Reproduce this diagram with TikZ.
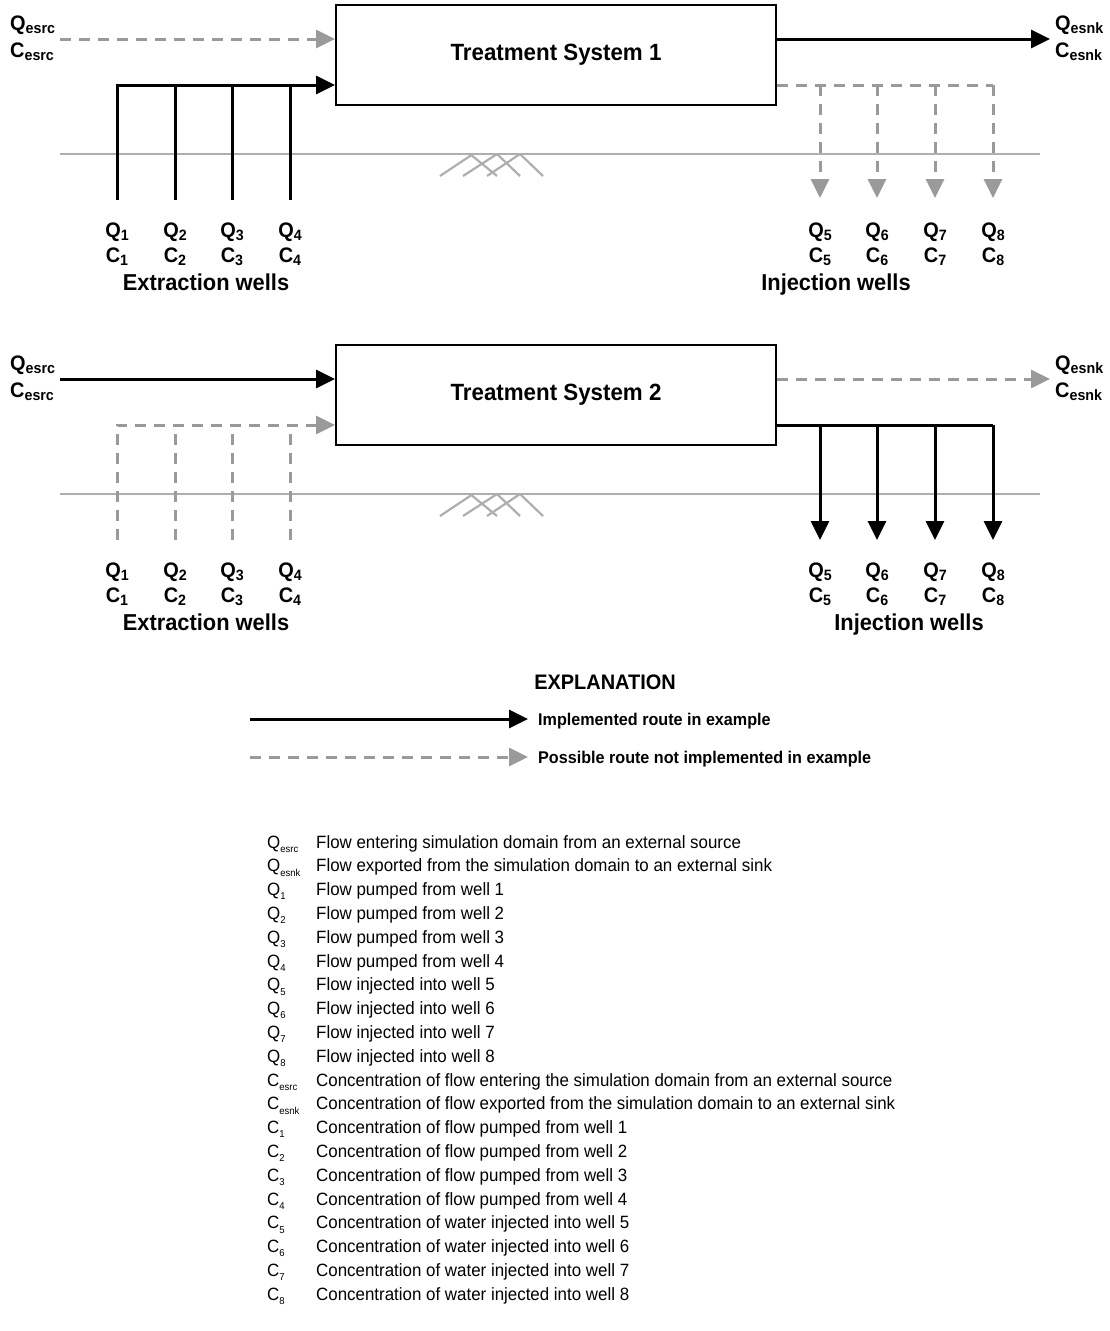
\documentclass[tikz,border=0pt]{standalone}
\usepackage{fontspec}
\setmainfont{Liberation Sans}[FakeStretch=0.95]
\usetikzlibrary{arrows.meta,positioning}

\definecolor{routegray}{HTML}{9A9A9B}
\definecolor{groundgray}{HTML}{AEAEAF}

% labels with lowered subscripts
\newcommand{\lbl}[2]{\textbf{#1}\raisebox{-0.35ex}{\fontsize{15}{15}\selectfont\bfseries #2}}
\newcommand{\keysym}[2]{#1\raisebox{-0.45ex}{\fontsize{10}{10}\selectfont #2}}

\begin{document}
\begin{tikzpicture}[x=1pt, y=-1pt,
  tip/.style={-{Triangle[length=19pt,width=18pt]}},
  done/.style={line width=3pt, black, line join=miter, tip},
  donebare/.style={line width=3pt, black},
  maybe/.style={line width=3pt, routegray, dash pattern=on 11pt off 8pt, tip},
  maybebare/.style={line width=3pt, routegray, dash pattern=on 11pt off 8pt},
  ground/.style={line width=2.2pt, groundgray},
  sysbox/.style={draw, line width=2pt, minimum width=440pt, minimum height=100pt,
    font=\fontsize{23.5}{26}\selectfont\bfseries},
  wlabel/.style={font=\fontsize{21}{23}\selectfont, inner sep=0pt},
  wtitle/.style={font=\fontsize{23}{25}\selectfont\bfseries, inner sep=0pt, anchor=base},
  keytext/.style={font=\fontsize{17.8}{20}\selectfont, inner sep=0pt, anchor=base west}]
  \useasboundingbox (0,0) rectangle (1109,1331);

  % ---------------- Panel 1 ----------------
  \node[sysbox] (ts1) at (556,55) {Treatment System 1};

  \node[wlabel, anchor=base west] (qsrc1) at (10,30) {\lbl{Q}{esrc}};
  \node[wlabel, anchor=base west] (csrc1) at (10,57) {\lbl{C}{esrc}};
  \node[wlabel, anchor=base west] (qsnk1) at (1055,30) {\lbl{Q}{esnk}};
  \node[wlabel, anchor=base west] (csnk1) at (1055,57) {\lbl{C}{esnk}};
  \coordinate (src1) at (60,39);
  \coordinate (snk1) at (1050,39);

  \draw[maybe] (src1) -- (ts1.west |- src1);
  \draw[done] (ts1.east |- src1) -- (snk1);

  % ground surface
  \draw[ground] (60,154) -- (1040,154);
  \draw[ground] (440,176) -- (473,154) (463,176) -- (497,154) (487,176) -- (520,154)
                (470,154) -- (497,176) (497,154) -- (520,176) (520,154) -- (543,176);

  % extraction wells
  \foreach \x [count=\i] in {117,175,232,290} {
    \coordinate (ex1\i) at (\x,200);
    \node[wlabel, anchor=base] (qex1\i) at (\x,237) {\lbl{Q}{\i}};
    \node[wlabel, anchor=base] (cex1\i) at (\x,262) {\lbl{C}{\i}};
  }
  \draw[done] (ex11) |- (ts1.west |- 0,85);
  \foreach \i in {2,3,4}
    \draw[donebare] (ex1\i) -- (ex1\i |- 0,85);
  \node[wtitle] (extitle1) at (206,290) {Extraction wells};

  % injection wells
  \foreach \x [count=\i from 5] in {820,877,935,993} {
    \coordinate (in1\i) at (\x,198);
    \node[wlabel, anchor=base] (qin1\i) at (\x,237) {\lbl{Q}{\i}};
    \node[wlabel, anchor=base] (cin1\i) at (\x,262) {\lbl{C}{\i}};
  }
  \draw[maybebare] (ts1.east |- 0,85) -- (in18 |- 0,85);
  \foreach \i in {5,6,7,8}
    \draw[maybe] (in1\i |- 0,85) -- (in1\i);
  \node[wtitle] (intitle1) at (836,290) {Injection wells};

  % ---------------- Panel 2 ----------------
  \begin{scope}[yshift=-340pt]
  \node[sysbox] (ts2) at (556,55) {Treatment System 2};

  \node[wlabel, anchor=base west] (qsrc2) at (10,30) {\lbl{Q}{esrc}};
  \node[wlabel, anchor=base west] (csrc2) at (10,57) {\lbl{C}{esrc}};
  \node[wlabel, anchor=base west] (qsnk2) at (1055,30) {\lbl{Q}{esnk}};
  \node[wlabel, anchor=base west] (csnk2) at (1055,57) {\lbl{C}{esnk}};
  \coordinate (src2) at (60,39);
  \coordinate (snk2) at (1050,39);

  \draw[done] (src2) -- (ts2.west |- src2);
  \draw[maybe] (ts2.east |- src2) -- (snk2);

  % ground surface
  \draw[ground] (60,154) -- (1040,154);
  \draw[ground] (440,176) -- (473,154) (463,176) -- (497,154) (487,176) -- (520,154)
                (470,154) -- (497,176) (497,154) -- (520,176) (520,154) -- (543,176);

  % extraction wells
  \foreach \x [count=\i] in {117,175,232,290} {
    \coordinate (ex2\i) at (\x,200);
    \node[wlabel, anchor=base] (qex2\i) at (\x,237) {\lbl{Q}{\i}};
    \node[wlabel, anchor=base] (cex2\i) at (\x,262) {\lbl{C}{\i}};
  }
  \draw[maybe] (ex21) |- (ts2.west |- 0,85);
  \foreach \i in {2,3,4}
    \draw[maybebare] (ex2\i) -- (ex2\i |- 0,85);
  \node[wtitle] (extitle2) at (206,290) {Extraction wells};

  % injection wells
  \foreach \x [count=\i from 5] in {820,877,935,993} {
    \coordinate (in2\i) at (\x,200);
    \node[wlabel, anchor=base] (qin2\i) at (\x,237) {\lbl{Q}{\i}};
    \node[wlabel, anchor=base] (cin2\i) at (\x,262) {\lbl{C}{\i}};
  }
  \draw[donebare] (ts2.east |- 0,85) -- (in28 |- 0,85);
  \foreach \i in {5,6,7,8}
    \draw[done] (in2\i |- 0,85) -- (in2\i);
  \node[wtitle] (intitle2) at (909,290) {Injection wells};
  \end{scope}

  % ---------------- Explanation ----------------
  \node[font=\fontsize{21}{24}\selectfont\bfseries, inner sep=0pt, anchor=base] (expl) at (605,689) {EXPLANATION};
  \coordinate (solidA) at (250,719);
  \coordinate (solidB) at (528,719);
  \coordinate (dashA) at (250,757);
  \coordinate (dashB) at (528,757);
  \draw[done] (solidA) -- (solidB);
  \draw[maybe] (dashA) -- (dashB);
  \node[font=\fontsize{17}{20}\selectfont\bfseries, inner sep=0pt, anchor=base west] (impl) at (538,725) {Implemented route in example};
  \node[font=\fontsize{17}{20}\selectfont\bfseries, inner sep=0pt, anchor=base west] (poss) at (538,763) {Possible route not implemented in example};

  \foreach \s/\b/\d [count=\i] in {
    Q/esrc/Flow entering simulation domain from an external source,
    Q/esnk/Flow exported from the simulation domain to an external sink,
    Q/1/Flow pumped from well 1,
    Q/2/Flow pumped from well 2,
    Q/3/Flow pumped from well 3,
    Q/4/Flow pumped from well 4,
    Q/5/Flow injected into well 5,
    Q/6/Flow injected into well 6,
    Q/7/Flow injected into well 7,
    Q/8/Flow injected into well 8,
    C/esrc/Concentration of flow entering the simulation domain from an external source,
    C/esnk/Concentration of flow exported from the simulation domain to an external sink,
    C/1/Concentration of flow pumped from well 1,
    C/2/Concentration of flow pumped from well 2,
    C/3/Concentration of flow pumped from well 3,
    C/4/Concentration of flow pumped from well 4,
    C/5/Concentration of water injected into well 5,
    C/6/Concentration of water injected into well 6,
    C/7/Concentration of water injected into well 7,
    C/8/Concentration of water injected into well 8} {
    \node[keytext] (sym\i) at (267,{848+(\i-1)*23.8}) {\keysym{\s}{\b}};
    \node[keytext] (desc\i) at (316,{848+(\i-1)*23.8}) {\d};
  }
\end{tikzpicture}
\end{document}
